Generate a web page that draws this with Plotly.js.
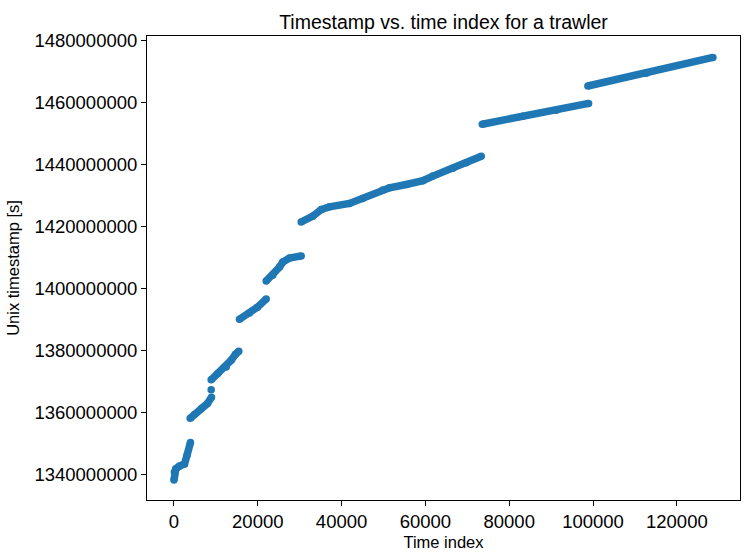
<!DOCTYPE html>
<html>
<head>
<meta charset="utf-8">
<script src="https://cdn.plot.ly/plotly-3.0.1.min.js"></script>
<style>html,body{margin:0;padding:0;background:#fff;}#chart{width:753px;height:556px;}</style>
</head>
<body>
<div id="chart"></div>
<script>
// Time index vs unix timestamp, one pair of arrays per contiguous run
const seg1Idx = [0, 100, 480, 1310, 2510, 3100, 3940];
const seg1Ts  = [1338300000, 1340900000, 1342000000, 1342800000, 1343500000, 1346200000, 1350400000];
const seg2Idx = [3870, 4890, 6560, 8000, 8950];
const seg2Ts  = [1358200000, 1359400000, 1361400000, 1363000000, 1365000000];
const seg2bIdx = [8880];
const seg2bTs  = [1367400000];
const seg3Idx = [8880, 10460, 12460, 13650, 14680, 15470];
const seg3Ts  = [1370600000, 1372600000, 1374700000, 1376900000, 1378800000, 1379800000];
const seg4Idx = [15630, 18020, 19930, 22010];
const seg4Ts  = [1390100000, 1392100000, 1394000000, 1396600000];
const seg5Idx = [22010, 23580, 25180, 25970, 27570, 30360];
const seg5Ts  = [1402400000, 1404300000, 1406900000, 1408500000, 1409800000, 1410500000];
const seg6Idx = [30360, 33130, 35140, 37120, 41900, 45070, 49840, 51440, 55430, 59390, 61780, 66550, 69750, 73330];
const seg6Ts  = [1421400000, 1423300000, 1425400000, 1426300000, 1427400000, 1429000000, 1431700000, 1432400000, 1433500000, 1434700000, 1436200000, 1438700000, 1440500000, 1442600000];
const seg7Idx = [73570, 83260, 91230, 98940];
const seg7Ts  = [1452900000, 1455500000, 1457400000, 1459600000];
const seg8Idx = [98770, 112710, 128610];
const seg8Ts  = [1465200000, 1469300000, 1474400000];

const xTickVals = [0, 20000, 40000, 60000, 80000, 100000, 120000];
const xTickText = ['0', '20000', '40000', '60000', '80000', '100000', '120000'];
const yTickVals = [1340000000, 1360000000, 1380000000, 1400000000, 1420000000, 1440000000, 1460000000, 1480000000];
const yTickText = ['1340000000', '1360000000', '1380000000', '1400000000', '1420000000', '1440000000', '1460000000', '1480000000'];

const segments = [
  [seg1Idx, seg1Ts], [seg2Idx, seg2Ts], [seg2bIdx, seg2bTs], [seg3Idx, seg3Ts],
  [seg4Idx, seg4Ts], [seg5Idx, seg5Ts], [seg6Idx, seg6Ts], [seg7Idx, seg7Ts], [seg8Idx, seg8Ts]
];
const blue = '#1f77b4';
const traces = segments.map(s => ({
  x: s[0], y: s[1], type: 'scatter', mode: 'lines+markers',
  line: {color: blue, width: 7.5},
  marker: {color: blue, size: 7.5, line: {width: 0}},
  hoverinfo: 'skip', showlegend: false
}));

const font = 'Liberation Sans, Arial, sans-serif';
const layout = {
  width: 753, height: 556,
  margin: {l: 147, r: 13, t: 36, b: 56, pad: 0},
  paper_bgcolor: '#ffffff', plot_bgcolor: '#ffffff',
  font: {family: font, size: 16, color: '#000000'},
  title: {text: 'Timestamp vs. time index for a trawler', font: {family: font, size: 19.5, color: '#000'},
          xref: 'paper', x: 0.5, xanchor: 'center', yref: 'paper', y: 1, yanchor: 'bottom', pad: {b: 7}},
  xaxis: {
    range: [-6432, 135072], showgrid: false, zeroline: false,
    showline: true, mirror: true, linecolor: '#000', linewidth: 1,
    ticks: 'outside', ticklen: 5, tickwidth: 1, tickcolor: '#000',
    tickvals: xTickVals, ticktext: xTickText, tickfont: {family: font, size: 18.5},
    title: {text: 'Time index', font: {family: font, size: 16.5}, standoff: 5}
  },
  yaxis: {
    range: [1331900000, 1481300000], showgrid: false, zeroline: false,
    showline: true, mirror: true, linecolor: '#000', linewidth: 1,
    ticks: 'outside', ticklen: 5, tickwidth: 1, tickcolor: '#000',
    tickvals: yTickVals, ticktext: yTickText, tickfont: {family: font, size: 18.5},
    title: {text: 'Unix timestamp [s]', font: {family: font, size: 16.5}, standoff: 10}
  }
};
Plotly.newPlot('chart', traces, layout, {displayModeBar: false, staticPlot: true});
</script>
</body>
</html>
